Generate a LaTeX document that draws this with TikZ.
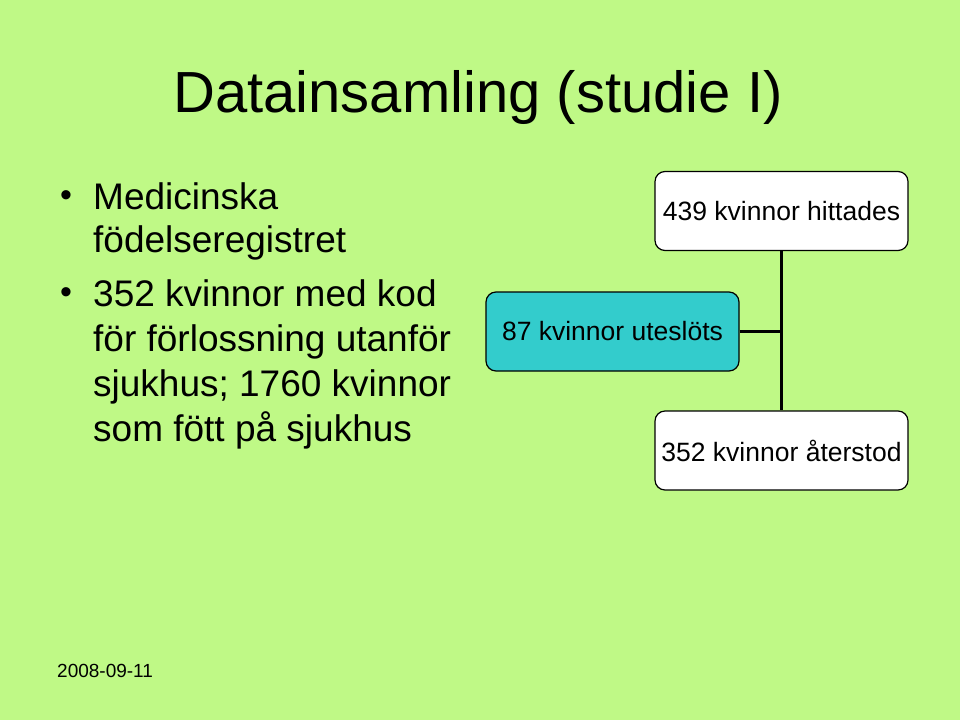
\documentclass[tikz,border=0pt]{standalone}
\usepackage{fontspec}
\setmainfont{Liberation Sans}
\definecolor{bg}{HTML}{BFF986}
\definecolor{teal}{HTML}{33CCCC}
\begin{document}
\begin{tikzpicture}[x=1pt,y=-1pt,
  box/.style={draw=black,line width=1.2pt,rounded corners=10pt,minimum width=253pt,minimum height=79pt,inner sep=0pt,font=\fontsize{26.5}{30}\selectfont},
  conn/.style={line width=3pt},
  bl/.style={anchor=base west,inner sep=0pt,font=\fontsize{37}{42}\selectfont}]
\fill[bg] (0,0) rectangle (960,720);
\useasboundingbox (0,0) rectangle (960,720);
\node[anchor=base,font=\fontsize{58}{66}\selectfont] (title) at (478,112) {Datainsamling (studie I)};
\node[anchor=center,inner sep=0pt] (b1) at (66,199) {\fontsize{34}{36}\selectfont •};
\node[anchor=center,inner sep=0pt] (b2) at (66,296) {\fontsize{34}{36}\selectfont •};
\node[bl] (t1) at (93,209) {Medicinska};
\node[bl] (t2) at (93,252) {födelseregistret};
\node[bl] (t3) at (93,306) {352 kvinnor med kod};
\node[bl] (t4) at (93,351) {för förlossning utanför};
\node[bl] (t5) at (93,396) {sjukhus; 1760 kvinnor};
\node[bl] (t6) at (93,441) {som fött på sjukhus};
\node[box,fill=white] (top) at (781.5,211) {439 kvinnor hittades};
\node[box,fill=teal] (mid) at (612.5,331.5) {87 kvinnor uteslöts};
\node[box,fill=white] (bot) at (781.5,450.5) {\raisebox{-10pt}{352 kvinnor återstod}};
\coordinate (j) at (top.south |- mid.east);
\draw[conn] (top.south) -- (bot.north);
\draw[conn] (mid.east) -- (j);
\node[anchor=base west,inner sep=0pt,font=\fontsize{19}{22}\selectfont] (date) at (57,677) {2008-09-11};
\end{tikzpicture}
\end{document}
